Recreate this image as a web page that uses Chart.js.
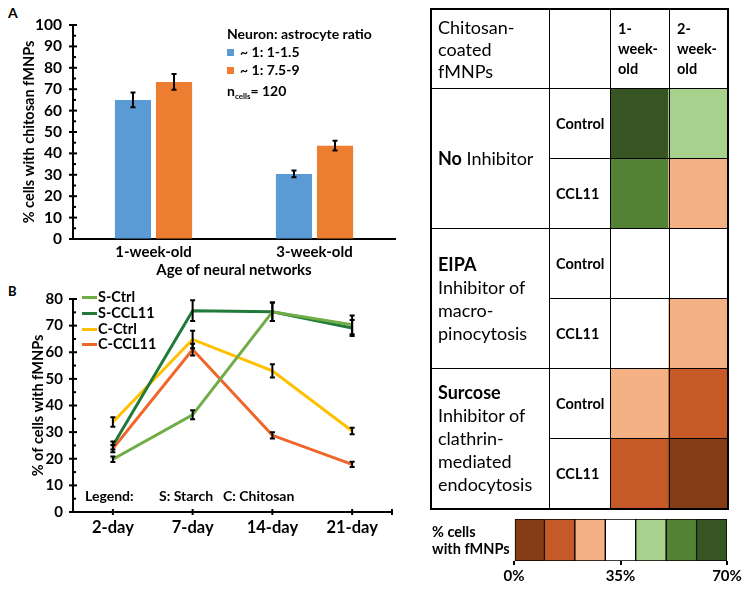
<!DOCTYPE html>
<html>
<head>
<meta charset="utf-8">
<script src="https://cdn.jsdelivr.net/npm/chart.js@4.4.1/dist/chart.umd.min.js"></script>
<style>
  body { margin: 0; background: #fff; }
  #page { position: relative; width: 754px; height: 589px; overflow: hidden; font-family: Lato, "Open Sans", sans-serif; color: #000; }
  .abs { position: absolute; }
  .txt { position: absolute; white-space: nowrap; line-height: 18px; }
  .b { font-weight: bold; }
  .cell { position: absolute; box-sizing: border-box; border: 1px solid #000; display: flex; align-items: center; padding-left: 6px; z-index: 1; background: transparent; }
  .grp { font-size: 18px; line-height: 23px; }
  .hd { font-size: 18px; line-height: 22px; }
  .wk { font-size: 14.5px; line-height: 20px; font-weight: bold; padding-left: 7px; }
  .tr { font-size: 14.5px; font-weight: bold; }
  sub { font-size: 8px; vertical-align: -3px; }
</style>
</head>
<body>
<div id="page">
  <div class="txt b" style="left:8px;top:4px;font-size:14px">A</div>
  <div class="txt b" style="left:8px;top:282px;font-size:13px">B</div>

  <canvas id="chartA" class="abs" width="420" height="285" style="left:0;top:0"></canvas>
  <canvas id="chartB" class="abs" width="420" height="260" style="left:0;top:280px"></canvas>
  <canvas id="heat" class="abs" width="117" height="420" style="left:610px;top:88px;z-index:0"></canvas>
  <canvas id="scaleBar" class="abs" width="264" height="79" style="left:490px;top:510px"></canvas>

  <div id="legendA"></div>
  <div id="legendB"></div>
  <div class="txt b" style="left:85px;top:487px;font-size:14px">Legend:</div>
  <div class="txt b" style="left:159px;top:487px;font-size:14px">S: Starch</div>
  <div class="txt b" style="left:223px;top:487px;font-size:14px">C: Chitosan</div>

  <div id="table"></div>
  <div class="abs" style="left:430px;top:8px;width:299px;height:502px;box-sizing:border-box;border:2px solid #000;z-index:2"></div>
  <div class="txt b" style="left:432px;top:523px;font-size:14.5px;line-height:17px">% cells<br>with fMNPs</div>
</div>

<script>
// Panel A: uptake of chitosan fMNPs by network age
const ageGroups = ["1-week-old", "3-week-old"];
const ratioLabels = ["~ 1: 1-1.5", "~ 1: 7.5-9"];
const ratioLow = [65, 30.4];
const ratioLowErr = [3.4, 1.6];
const ratioHigh = [73.4, 43.6];
const ratioHighErr = [3.7, 2.3];
const nCells = 120;

// Panel B: time course
const days = ["2-day", "7-day", "14-day", "21-day"];
const seriesNames = ["S-Ctrl", "S-CCL11", "C-Ctrl", "C-CCL11"];
const sCtrl = [19.8, 36.5, 75.2, 70.3];
const sCtrlErr = [1.0, 1.7, 3.5, 3.5];
const sCcl11 = [25, 75.6, 75.2, 69.1];
const sCcl11Err = [1.5, 3.9, 3.5, 3.0];
const cCtrl = [33.8, 64.8, 53, 30.4];
const cCtrlErr = [1.8, 3.3, 2.5, 1.2];
const cCcl11 = [23.8, 61, 28.8, 17.9];
const cCcl11Err = [1.4, 2.2, 1.2, 1.0];
const seriesColors = ["#70AD47", "#217A3A", "#FFC000", "#F0652A"];

// Panel C: heat table (% cells with fMNPs)
const heatCols = ["1-week-old", "2-week-old"];
const treatments = ["Control", "CCL11", "Control", "CCL11", "Control", "CCL11"];
const inhibitors = [
  "<b>No</b> Inhibitor",
  "<b>EIPA</b><br>Inhibitor of<br>macro-<br>pinocytosis",
  "<b>Surcose</b><br>Inhibitor of<br>clathrin-<br>mediated<br>endocytosis"
];
const week1 = [65, 55, 35, 35, 25, 15];
const week2 = [45, 25, 35, 25, 15, 5];
const binEdges = [0, 10, 20, 30, 40, 50, 60, 70];
const binColors = ["#843C15", "#C55A28", "#F4B183", "#FFFFFF", "#A9D18E", "#548235", "#375623"];
const scaleTicks = [0, 35, 70];

Chart.defaults.font.family = "Lato, 'Open Sans', sans-serif";
Chart.defaults.color = "#000";

// error bars from the value scale
const errorBars = {
  id: "errorBars",
  afterDatasetsDraw(chart) {
    const ctx = chart.ctx;
    const yS = chart.scales.y;
    ctx.save();
    ctx.strokeStyle = "#000";
    ctx.lineWidth = 2;
    chart.data.datasets.forEach((ds, di) => {
      if (!ds.errors) return;
      chart.getDatasetMeta(di).data.forEach((el, i) => {
        const top = yS.getPixelForValue(ds.data[i] + ds.errors[i]);
        const bot = yS.getPixelForValue(ds.data[i] - ds.errors[i]);
        ctx.beginPath();
        ctx.moveTo(el.x, top); ctx.lineTo(el.x, bot);
        ctx.moveTo(el.x - 2.5, top); ctx.lineTo(el.x + 2.5, top);
        ctx.moveTo(el.x - 2.5, bot); ctx.lineTo(el.x + 2.5, bot);
        ctx.stroke();
      });
    });
    ctx.restore();
  }
};

// tick marks crossing the axes, like the original
const axisTicks = {
  id: "axisTicks",
  afterDraw(chart, args, opts) {
    const ctx = chart.ctx;
    const y = chart.scales.y, x = chart.scales.x;
    ctx.save();
    ctx.strokeStyle = "#000";
    ctx.lineWidth = 2;
    for (let v = y.min; v <= y.max; v += 5) {
      const py = y.getPixelForValue(v);
      const major = v % 10 === 0;
      ctx.beginPath();
      ctx.moveTo(y.right - (major ? 4 : 0), py);
      ctx.lineTo(y.right + (major ? 4 : 3), py);
      ctx.stroke();
    }
    if (opts.xTicks) {
      const xs = chart.data.labels.map((l, i) => x.getPixelForValue(i));
      xs.push(x.right);
      xs.forEach(px => {
        ctx.beginPath();
        ctx.moveTo(px, x.top - 3); ctx.lineTo(px, x.top + 3);
        ctx.stroke();
      });
    }
    ctx.restore();
  }
};

// Panel A
new Chart(document.getElementById("chartA"), {
  type: "bar",
  data: {
    labels: ageGroups,
    datasets: [
      { label: ratioLabels[0], data: ratioLow, errors: ratioLowErr, backgroundColor: "#5B9BD5" },
      { label: ratioLabels[1], data: ratioHigh, errors: ratioHighErr, backgroundColor: "#ED7D31" }
    ]
  },
  options: {
    responsive: false,
    animation: false,
    layout: { padding: { top: 25, right: 25, left: 0, bottom: 0 } },
    datasets: { bar: { categoryPercentage: 0.51, barPercentage: 0.88 } },
    plugins: { legend: { display: false }, tooltip: { enabled: false }, axisTicks: {} },
    scales: {
      x: {
        grid: { display: false, drawTicks: false },
        border: { display: true, color: "#000", width: 2 },
        ticks: { font: { size: 15, weight: "bold" }, padding: 4 },
        title: { display: true, text: "Age of neural networks", font: { size: 15, weight: "bold" }, padding: { top: 0, bottom: 6 } },
        afterFit: s => { s.height = 46; }
      },
      y: {
        min: 0, max: 100,
        grid: { display: true, drawOnChartArea: false, drawTicks: false },
        border: { display: true, color: "#000", width: 2 },
        ticks: { stepSize: 10, autoSkip: false, font: { size: 15.5, weight: "bold" }, padding: 11 },
        title: { display: true, text: "% cells with chitosan fMNPs", font: { size: 14.5, weight: "bold" }, padding: { top: 21, bottom: 0 } },
        afterFit: s => { s.width = 73; }
      }
    }
  },
  plugins: [errorBars, axisTicks]
});

// Panel B
const bSeries = [sCtrl, sCcl11, cCtrl, cCcl11];
const bErrors = [sCtrlErr, sCcl11Err, cCtrlErr, cCcl11Err];
new Chart(document.getElementById("chartB"), {
  type: "line",
  data: {
    labels: days,
    datasets: seriesNames.map((name, i) => ({
      label: name,
      data: bSeries[i],
      errors: bErrors[i],
      borderColor: seriesColors[i],
      borderWidth: 3,
      pointRadius: 0,
      tension: 0
    }))
  },
  options: {
    responsive: false,
    animation: false,
    layout: { padding: { top: 11, right: 28, left: 0, bottom: 0 } },
    plugins: { legend: { display: false }, tooltip: { enabled: false }, axisTicks: { xTicks: true } },
    scales: {
      x: {
        offset: true,
        grid: { display: false, drawTicks: false },
        border: { display: true, color: "#000", width: 2 },
        ticks: { font: { size: 16.5, weight: "bold" }, padding: 6 },
        afterFit: s => { s.height = 28; }
      },
      y: {
        min: 0, max: 80,
        grid: { display: true, drawOnChartArea: false, drawTicks: false },
        border: { display: true, color: "#000", width: 2 },
        ticks: { stepSize: 10, autoSkip: false, font: { size: 15, weight: "bold" }, padding: 10 },
        title: { display: true, text: "% of cells with fMNPs", font: { size: 14.5, weight: "bold" }, padding: { top: 30, bottom: 0 } },
        afterFit: s => { s.width = 73; }
      }
    }
  },
  plugins: [errorBars, axisTicks]
});

// Panel C heat cells: one floating-bar dataset per table row
function binColor(v) {
  for (let i = 0; i < binColors.length; i++) {
    if (v < binEdges[i + 1]) return binColors[i];
  }
  return binColors[binColors.length - 1];
}

new Chart(document.getElementById("heat"), {
  type: "bar",
  data: {
    labels: heatCols,
    datasets: treatments.map((t, r) => ({
      label: t,
      data: [[r, r + 1], [r, r + 1]],
      backgroundColor: [binColor(week1[r]), binColor(week2[r])],
      borderWidth: 0,
      grouped: false,
      barPercentage: 1,
      categoryPercentage: 1
    }))
  },
  options: {
    responsive: false,
    animation: false,
    layout: { padding: 0 },
    plugins: { legend: { display: false }, tooltip: { enabled: false } },
    scales: {
      x: { display: false },
      y: { display: false, min: 0, max: treatments.length, reverse: true }
    }
  }
});

// colour scale bar
new Chart(document.getElementById("scaleBar"), {
  type: "bar",
  data: {
    labels: ["scale"],
    datasets: binColors.map((c, i) => ({
      data: [[binEdges[i], binEdges[i + 1]]],
      backgroundColor: c,
      borderColor: "#000",
      borderWidth: 1,
      borderSkipped: false,
      grouped: false,
      barPercentage: 1,
      categoryPercentage: 1
    }))
  },
  options: {
    indexAxis: "y",
    responsive: false,
    animation: false,
    layout: { padding: { left: 24, right: 27, top: 9, bottom: 8 } },
    plugins: { legend: { display: false }, tooltip: { enabled: false } },
    scales: {
      y: { display: false },
      x: {
        min: 0, max: 70,
        afterBuildTicks: s => { s.ticks = scaleTicks.map(v => ({ value: v })); },
        grid: { drawOnChartArea: false, drawTicks: true, tickLength: 4, color: "#000", lineWidth: 2 },
        border: { display: false },
        ticks: { font: { size: 15, weight: "bold" }, padding: 2, callback: v => v + "%" },
        afterFit: s => { s.height = 20; }
      }
    }
  }
});

// legends as text
const legA = document.getElementById("legendA");
legA.innerHTML =
  '<div class="txt b" style="left:227px;top:25px;font-size:14px">Neuron: astrocyte ratio</div>' +
  ratioLabels.map((l, i) =>
    '<div class="abs" style="left:227px;top:' + (49 + 18 * i) + 'px;width:7px;height:7px;background:' + ["#5B9BD5", "#ED7D31"][i] + '"></div>' +
    '<div class="txt b" style="left:240px;top:' + (43 + 18 * i) + 'px;font-size:14px">' + l + '</div>'
  ).join("") +
  '<div class="txt b" style="left:227px;top:82px;font-size:14px">n<sub>cells</sub>= ' + nCells + '</div>';

const legB = document.getElementById("legendB");
const legBy = [297, 313, 329, 344];
legB.innerHTML = seriesNames.map((n, i) =>
  '<div class="abs" style="left:82px;top:' + (legBy[i] - 1.5) + 'px;width:15px;height:3px;background:' + seriesColors[i] + '"></div>' +
  '<div class="txt b" style="left:98px;top:' + (legBy[i] - 9) + 'px;font-size:14.5px">' + n + '</div>'
).join("");

// table grid and text
const colX = [431, 549, 610, 669, 727];
const rowY = [9, 88, 158, 228, 298, 368, 438, 508];
const cells = [
  [0, 0, 1, 1, "Chitosan-<br>coated<br>fMNPs", "hd"],
  [1, 0, 2, 1, "", ""],
  [2, 0, 3, 1, "1-<br>week-<br>old", "wk"],
  [3, 0, 4, 1, "2-<br>week-<br>old", "wk"]
];
inhibitors.forEach((g, k) => cells.push([0, 1 + 2 * k, 1, 3 + 2 * k, g, "grp"]));
treatments.forEach((t, r) => {
  cells.push([1, r + 1, 2, r + 2, t, "tr"]);
  cells.push([2, r + 1, 3, r + 2, "", ""]);
  cells.push([3, r + 1, 4, r + 2, "", ""]);
});
document.getElementById("table").innerHTML = cells.map(([c0, r0, c1, r1, html, cls]) =>
  '<div class="cell ' + cls + '" style="left:' + colX[c0] + 'px;top:' + rowY[r0] + 'px;width:' +
  (colX[c1] - colX[c0] + 1) + 'px;height:' + (rowY[r1] - rowY[r0] + 1) + 'px"><div>' + html + '</div></div>'
).join("");
</script>
</body>
</html>
